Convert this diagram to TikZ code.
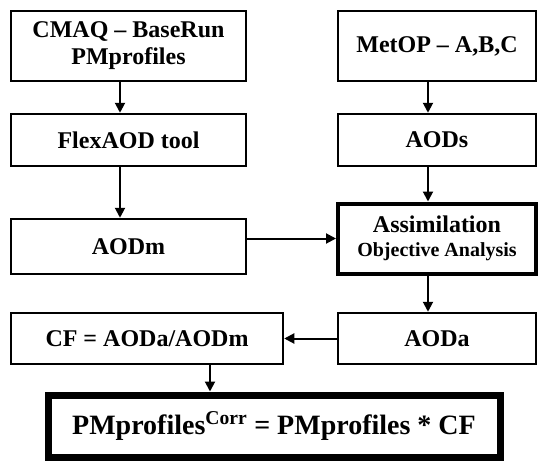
\documentclass[tikz,border=0pt]{standalone}
\usepackage{fontspec}
\setmainfont{Liberation Serif}
\usetikzlibrary{arrows.meta}
\tikzset{
  box/.style={draw=black, line width=2.5pt, fill=white, inner sep=0pt, align=center,
    font=\bfseries\fontsize{24}{27}\selectfont},
  thickbox/.style={box, line width=4pt},
  finalbox/.style={box, line width=7pt, font=\bfseries\fontsize{28}{32}\selectfont},
  arr/.style={line width=2pt, -{Triangle[length=10pt,width=10pt]}}
}
\begin{document}
\begin{tikzpicture}[x=1pt,y=-1pt]
\useasboundingbox (0,0) rectangle (550,466);
% left column
\node[box, minimum width=235pt, minimum height=70pt] (cmaq) at (128.5,46) {CMAQ -- BaseRun\\PMprofiles};
\node[box, minimum width=235pt, minimum height=52pt] (flex) at (128.5,140) {FlexAOD tool};
\node[box, minimum width=235pt, minimum height=55pt] (aodm) at (128.5,246.5) {AODm};
\node[box, minimum width=272pt, minimum height=51pt] (cf) at (147,338.5) {CF = AODa/AODm};
% right column
\node[box, minimum width=198pt, minimum height=70pt] (metop) at (437,46) {MetOP -- A,B,C};
\node[box, minimum width=198pt, minimum height=52pt] (aods) at (437,140) {AODs};
\node[thickbox, minimum width=198pt, minimum height=70pt] (assim) at (437,238.5)
  {Assimilation\\[-3pt]{\fontsize{20}{22}\selectfont Objective Analysis}};
\node[box, minimum width=198pt, minimum height=51pt] (aoda) at (437,338.5) {AODa};
% final
\node[finalbox, minimum width=452pt, minimum height=62pt] (final) at (274,426)
  {PMprofiles\textsuperscript{Corr} = PMprofiles * CF};
% connectors
\draw[arr] ([xshift=-8.5pt]cmaq.south) -- ([xshift=-8.5pt]flex.north);
\draw[arr] ([xshift=-8.5pt]flex.south) -- ([xshift=-8.5pt]aodm.north);
\draw[arr] ([xshift=-9pt]metop.south) -- ([xshift=-9pt]aods.north);
\draw[arr] ([xshift=-9pt]aods.south) -- ([xshift=-9pt]assim.north);
\draw[arr] (aodm.east |- assim.west) -- (assim.west);
\draw[arr] ([xshift=-9pt]assim.south) -- ([xshift=-9pt]aoda.north);
\draw[arr] (aoda.west) -- (cf.east);
\draw[arr] ([xshift=63pt]cf.south) -- ([xshift=63pt]cf.south |- final.north);
\end{tikzpicture}
\end{document}
